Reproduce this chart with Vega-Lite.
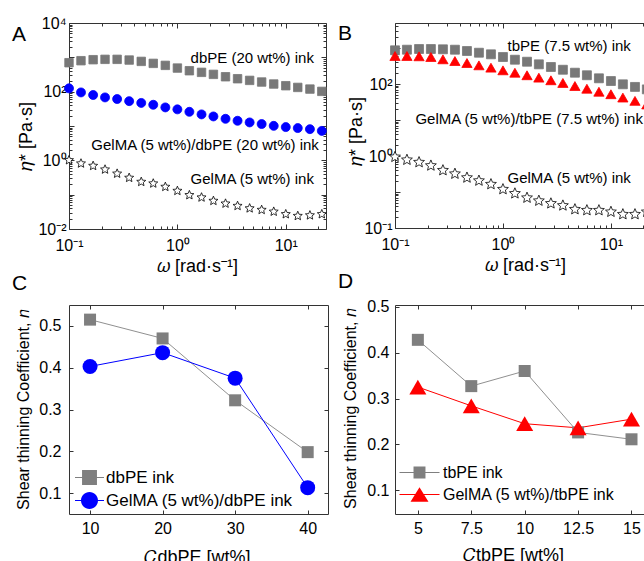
{
  "$schema": "https://vega.github.io/schema/vega-lite/v6.json",
  "padding": {"left": 11, "top": 14, "right": 0, "bottom": 0},
  "config": {
    "font": "Liberation Sans",
    "view": {"stroke": "#333", "strokeWidth": 1},
    "axis": {"labelFont": "Liberation Sans", "titleFont": "Liberation Sans", "labelColor": "#000", "titleColor": "#000", "tickColor": "#333", "domain": false, "grid": false, "titleFontWeight": "normal", "labelFlush": false, "labelOverlap": false, "labelBound": false},
    "title": {"font": "Liberation Sans", "fontSize": 21, "fontWeight": "normal", "anchor": "start", "frame": "group", "color": "#000"},
    "legend": {"labelFont": "Liberation Sans", "labelColor": "#000"}
  },
  "datasets": {
    "A": [
      {"w":0.1,"v":697,"s":"dbPE"},{"w":0.129,"v":798,"s":"dbPE"},{"w":0.167,"v":853,"s":"dbPE"},{"w":0.215,"v":874,"s":"dbPE"},{"w":0.278,"v":874,"s":"dbPE"},{"w":0.359,"v":834,"s":"dbPE"},{"w":0.464,"v":762,"s":"dbPE"},{"w":0.599,"v":667,"s":"dbPE"},{"w":0.774,"v":583,"s":"dbPE"},{"w":1,"v":487,"s":"dbPE"},{"w":1.29,"v":407,"s":"dbPE"},{"w":1.67,"v":365,"s":"dbPE"},{"w":2.15,"v":319,"s":"dbPE"},{"w":2.78,"v":272,"s":"dbPE"},{"w":3.59,"v":238,"s":"dbPE"},{"w":4.64,"v":213,"s":"dbPE"},{"w":5.99,"v":191,"s":"dbPE"},{"w":7.74,"v":167,"s":"dbPE"},{"w":10,"v":149,"s":"dbPE"},{"w":12.9,"v":133,"s":"dbPE"},{"w":16.7,"v":119,"s":"dbPE"},{"w":21.5,"v":102,"s":"dbPE"},
      {"w":0.1,"v":125,"s":"GelMA/dbPE"},{"w":0.129,"v":95,"s":"GelMA/dbPE"},{"w":0.167,"v":80,"s":"GelMA/dbPE"},{"w":0.215,"v":68,"s":"GelMA/dbPE"},{"w":0.278,"v":61,"s":"GelMA/dbPE"},{"w":0.359,"v":53,"s":"GelMA/dbPE"},{"w":0.464,"v":47,"s":"GelMA/dbPE"},{"w":0.599,"v":41.5,"s":"GelMA/dbPE"},{"w":0.774,"v":34.8,"s":"GelMA/dbPE"},{"w":1,"v":30.5,"s":"GelMA/dbPE"},{"w":1.29,"v":25.9,"s":"GelMA/dbPE"},{"w":1.67,"v":21.8,"s":"GelMA/dbPE"},{"w":2.15,"v":19.0,"s":"GelMA/dbPE"},{"w":2.78,"v":16.2,"s":"GelMA/dbPE"},{"w":3.59,"v":14.2,"s":"GelMA/dbPE"},{"w":4.64,"v":12.7,"s":"GelMA/dbPE"},{"w":5.99,"v":11.4,"s":"GelMA/dbPE"},{"w":7.74,"v":10.1,"s":"GelMA/dbPE"},{"w":10,"v":9.3,"s":"GelMA/dbPE"},{"w":12.9,"v":8.7,"s":"GelMA/dbPE"},{"w":16.7,"v":8.1,"s":"GelMA/dbPE"},{"w":21.5,"v":7.2,"s":"GelMA/dbPE"},
      {"w":0.1,"v":1.01,"s":"GelMA"},{"w":0.129,"v":0.81,"s":"GelMA"},{"w":0.167,"v":0.69,"s":"GelMA"},{"w":0.215,"v":0.54,"s":"GelMA"},{"w":0.278,"v":0.41,"s":"GelMA"},{"w":0.359,"v":0.31,"s":"GelMA"},{"w":0.464,"v":0.236,"s":"GelMA"},{"w":0.599,"v":0.212,"s":"GelMA"},{"w":0.774,"v":0.169,"s":"GelMA"},{"w":1,"v":0.129,"s":"GelMA"},{"w":1.29,"v":0.097,"s":"GelMA"},{"w":1.67,"v":0.083,"s":"GelMA"},{"w":2.15,"v":0.066,"s":"GelMA"},{"w":2.78,"v":0.055,"s":"GelMA"},{"w":3.59,"v":0.047,"s":"GelMA"},{"w":4.64,"v":0.040,"s":"GelMA"},{"w":5.99,"v":0.036,"s":"GelMA"},{"w":7.74,"v":0.032,"s":"GelMA"},{"w":10,"v":0.027,"s":"GelMA"},{"w":12.9,"v":0.024,"s":"GelMA"},{"w":16.7,"v":0.025,"s":"GelMA"},{"w":21.5,"v":0.027,"s":"GelMA"}
    ],
    "Atxt": [
      {"x":18.2,"y":955,"t":"dbPE (20 wt%) ink"},
      {"x":20.2,"y":2.79,"t":"GelMA (5 wt%)/dbPE (20 wt%) ink"},
      {"x":18.2,"y":0.286,"t":"GelMA (5 wt%) ink"}
    ],
    "B": [
      {"w":0.1,"v":863,"s":"tbPE"},{"w":0.129,"v":897,"s":"tbPE"},{"w":0.167,"v":938,"s":"tbPE"},{"w":0.215,"v":938,"s":"tbPE"},{"w":0.278,"v":920,"s":"tbPE"},{"w":0.359,"v":897,"s":"tbPE"},{"w":0.464,"v":826,"s":"tbPE"},{"w":0.599,"v":740,"s":"tbPE"},{"w":0.774,"v":668,"s":"tbPE"},{"w":1,"v":562,"s":"tbPE"},{"w":1.29,"v":473,"s":"tbPE"},{"w":1.67,"v":416,"s":"tbPE"},{"w":2.15,"v":352,"s":"tbPE"},{"w":2.78,"v":297,"s":"tbPE"},{"w":3.59,"v":249,"s":"tbPE"},{"w":4.64,"v":206,"s":"tbPE"},{"w":5.99,"v":175,"s":"tbPE"},{"w":7.74,"v":144,"s":"tbPE"},{"w":10,"v":121,"s":"tbPE"},{"w":12.9,"v":98,"s":"tbPE"},{"w":16.7,"v":83,"s":"tbPE"},{"w":21.5,"v":71,"s":"tbPE"},
      {"w":0.1,"v":600,"s":"GelMA/tbPE"},{"w":0.129,"v":600,"s":"GelMA/tbPE"},{"w":0.167,"v":588,"s":"GelMA/tbPE"},{"w":0.215,"v":562,"s":"GelMA/tbPE"},{"w":0.278,"v":485,"s":"GelMA/tbPE"},{"w":0.359,"v":435,"s":"GelMA/tbPE"},{"w":0.464,"v":383,"s":"GelMA/tbPE"},{"w":0.599,"v":330,"s":"GelMA/tbPE"},{"w":0.774,"v":284,"s":"GelMA/tbPE"},{"w":1,"v":240,"s":"GelMA/tbPE"},{"w":1.29,"v":206,"s":"GelMA/tbPE"},{"w":1.67,"v":175,"s":"GelMA/tbPE"},{"w":2.15,"v":150,"s":"GelMA/tbPE"},{"w":2.78,"v":127,"s":"GelMA/tbPE"},{"w":3.59,"v":107,"s":"GelMA/tbPE"},{"w":4.64,"v":88,"s":"GelMA/tbPE"},{"w":5.99,"v":74,"s":"GelMA/tbPE"},{"w":7.74,"v":61,"s":"GelMA/tbPE"},{"w":10,"v":52,"s":"GelMA/tbPE"},{"w":12.9,"v":42,"s":"GelMA/tbPE"},{"w":16.7,"v":34,"s":"GelMA/tbPE"},{"w":21.5,"v":27,"s":"GelMA/tbPE"},
      {"w":0.1,"v":0.94,"s":"GelMA"},{"w":0.129,"v":0.78,"s":"GelMA"},{"w":0.167,"v":0.67,"s":"GelMA"},{"w":0.215,"v":0.54,"s":"GelMA"},{"w":0.278,"v":0.40,"s":"GelMA"},{"w":0.359,"v":0.32,"s":"GelMA"},{"w":0.464,"v":0.25,"s":"GelMA"},{"w":0.599,"v":0.206,"s":"GelMA"},{"w":0.774,"v":0.164,"s":"GelMA"},{"w":1,"v":0.119,"s":"GelMA"},{"w":1.29,"v":0.091,"s":"GelMA"},{"w":1.67,"v":0.069,"s":"GelMA"},{"w":2.15,"v":0.057,"s":"GelMA"},{"w":2.78,"v":0.048,"s":"GelMA"},{"w":3.59,"v":0.042,"s":"GelMA"},{"w":4.64,"v":0.033,"s":"GelMA"},{"w":5.99,"v":0.031,"s":"GelMA"},{"w":7.74,"v":0.031,"s":"GelMA"},{"w":10,"v":0.028,"s":"GelMA"},{"w":12.9,"v":0.024,"s":"GelMA"},{"w":16.7,"v":0.024,"s":"GelMA"},{"w":21.5,"v":0.028,"s":"GelMA"}
    ],
    "Btxt": [
      {"x":15.3,"y":1137,"t":"tbPE (7.5 wt%) ink"},
      {"x":19.8,"y":10.7,"t":"GelMA (5 wt%)/tbPE (7.5 wt%) ink"},
      {"x":15.3,"y":0.245,"t":"GelMA (5 wt%) ink"}
    ],
    "C": [
      {"c":10,"n":0.515,"s":"dbPE ink"},{"c":20,"n":0.47,"s":"dbPE ink"},{"c":30,"n":0.322,"s":"dbPE ink"},{"c":40,"n":0.198,"s":"dbPE ink"},
      {"c":10,"n":0.403,"s":"GelMA (5 wt%)/dbPE ink"},{"c":20,"n":0.436,"s":"GelMA (5 wt%)/dbPE ink"},{"c":30,"n":0.375,"s":"GelMA (5 wt%)/dbPE ink"},{"c":40,"n":0.113,"s":"GelMA (5 wt%)/dbPE ink"}
    ],
    "D": [
      {"c":5,"n":0.428,"s":"tbPE ink"},{"c":7.5,"n":0.327,"s":"tbPE ink"},{"c":10,"n":0.36,"s":"tbPE ink"},{"c":12.5,"n":0.226,"s":"tbPE ink"},{"c":15,"n":0.211,"s":"tbPE ink"},
      {"c":5,"n":0.325,"s":"GelMA (5 wt%)/tbPE ink"},{"c":7.5,"n":0.284,"s":"GelMA (5 wt%)/tbPE ink"},{"c":10,"n":0.245,"s":"GelMA (5 wt%)/tbPE ink"},{"c":12.5,"n":0.236,"s":"GelMA (5 wt%)/tbPE ink"},{"c":15,"n":0.255,"s":"GelMA (5 wt%)/tbPE ink"}
    ]
  },
  "columns": 2,
  "spacing": {"row": 76, "column": 67},
  "bounds": "flush",
  "resolve": {"scale": {"x": "independent", "y": "independent", "fill": "independent", "stroke": "independent", "shape": "independent", "size": "independent", "color": "independent"}, "legend": {"fill": "independent", "color": "independent", "shape": "independent", "size": "independent", "stroke": "independent"}},
  "concat": [
        {
          "width": 257, "height": 206,
          "title": {"text": "A", "dx": -57, "dy": 34},
          "resolve": {"axis": {"x": "independent", "y": "independent"}},
          "layer": [
            {
              "data": {"name": "A"},
              "mark": {"type": "point", "filled": true, "opacity": 1, "strokeWidth": 0.8},
              "encoding": {
                "x": {"field": "w", "type": "quantitative", "scale": {"type": "log", "domain": [0.1, 23.5]},
                  "axis": {"orient": "bottom", "values": [0.1,0.2,0.3,0.4,0.5,0.6,0.7,0.8,0.9,1,2,3,4,5,6,7,8,9,10,20],
                    "labelExpr": "datum.value==0.1?'10⁻¹':datum.value==1?'10⁰':datum.value==10?'10¹':''",
                    "tickSize": {"condition": {"test": "datum.value==0.1||datum.value==1||datum.value==10", "value": -5}, "value": -3},
                    "labelPadding": 13, "labelFontSize": 16,
                    "title": "𝜔 [rad·s⁻¹]", "titleFontSize": 18, "titleX": 128, "titleY": 37, "titleBaseline": "middle"}},
                "y": {"field": "v", "type": "quantitative", "scale": {"type": "log", "domain": [0.01, 10000]},
                  "axis": {"orient": "left", "values": [0.01,0.02,0.03,0.04,0.05,0.06,0.07,0.08,0.09,0.1,0.2,0.3,0.4,0.5,0.6,0.7,0.8,0.9,1,2,3,4,5,6,7,8,9,10,20,30,40,50,60,70,80,90,100,200,300,400,500,600,700,800,900,1000,2000,3000,4000,5000,6000,7000,8000,9000,10000],
                    "labelExpr": "datum.value==0.01?'10⁻²':datum.value==1?'10⁰':datum.value==100?'10²':datum.value==10000?'10⁴':''",
                    "tickSize": {"condition": {"test": "datum.value==0.01||datum.value==0.1||datum.value==1||datum.value==10||datum.value==100||datum.value==1000||datum.value==10000", "value": -5}, "value": -3},
                    "labelPadding": 8, "labelFontSize": 16,
                    "title": "𝜂* [Pa·s]", "titleFontSize": 18, "titleX": -43, "titleY": 113, "titleBaseline": "middle"}},
                "shape": {"field": "s", "type": "nominal", "scale": {"domain": ["dbPE", "GelMA/dbPE", "GelMA"], "range": ["square", "circle", "M0,-1L0.265,-0.364L0.951,-0.309L0.428,0.139L0.588,0.809L0,0.45L-0.588,0.809L-0.428,0.139L-0.951,-0.309L-0.265,-0.364Z"]}, "legend": null},
                "fill": {"field": "s", "type": "nominal", "scale": {"domain": ["dbPE", "GelMA/dbPE", "GelMA"], "range": ["#787878", "#0000ff", "#ffffff"]}, "legend": null},
                "stroke": {"field": "s", "type": "nominal", "scale": {"domain": ["dbPE", "GelMA/dbPE", "GelMA"], "range": ["#787878", "#0000ff", "#000000"]}, "legend": null},
                "size": {"field": "s", "type": "ordinal", "scale": {"domain": ["dbPE", "GelMA/dbPE", "GelMA"], "range": [72, 90, 130]}, "legend": null}
              }
            },
            {
              "data": {"name": "Atxt"},
              "mark": {"type": "text", "align": "right", "baseline": "middle", "fontSize": 15, "color": "#000"},
              "encoding": {
                "x": {"field": "x", "type": "quantitative", "scale": {"type": "log", "domain": [0.1, 23.5]},
                  "axis": {"orient": "top", "values": [0.1,0.2,0.3,0.4,0.5,0.6,0.7,0.8,0.9,1,2,3,4,5,6,7,8,9,10,20], "labels": false, "title": null,
                    "tickSize": {"condition": {"test": "datum.value==0.1||datum.value==1||datum.value==10", "value": -5}, "value": -3}}},
                "y": {"field": "y", "type": "quantitative", "scale": {"type": "log", "domain": [0.01, 10000]},
                  "axis": {"orient": "right", "values": [0.01,0.02,0.03,0.04,0.05,0.06,0.07,0.08,0.09,0.1,0.2,0.3,0.4,0.5,0.6,0.7,0.8,0.9,1,2,3,4,5,6,7,8,9,10,20,30,40,50,60,70,80,90,100,200,300,400,500,600,700,800,900,1000,2000,3000,4000,5000,6000,7000,8000,9000,10000], "labels": false, "title": null,
                    "tickSize": {"condition": {"test": "datum.value==0.01||datum.value==0.1||datum.value==1||datum.value==10||datum.value==100||datum.value==1000||datum.value==10000", "value": -5}, "value": -3}}},
                "text": {"field": "t", "type": "nominal"}
              }
            }
          ]
        },
        {
          "width": 256, "height": 205,
          "title": {"text": "B", "dx": -57, "dy": 30},
          "resolve": {"axis": {"x": "independent", "y": "independent"}},
          "layer": [
            {
              "data": {"name": "B"},
              "mark": {"type": "point", "filled": true, "opacity": 1, "strokeWidth": 0.8},
              "encoding": {
                "x": {"field": "w", "type": "quantitative", "scale": {"type": "log", "domain": [0.1, 23.5]},
                  "axis": {"orient": "bottom", "values": [0.1,0.2,0.3,0.4,0.5,0.6,0.7,0.8,0.9,1,2,3,4,5,6,7,8,9,10,20],
                    "labelExpr": "datum.value==0.1?'10⁻¹':datum.value==1?'10⁰':datum.value==10?'10¹':''",
                    "tickSize": {"condition": {"test": "datum.value==0.1||datum.value==1||datum.value==10", "value": -5}, "value": -3},
                    "labelPadding": 13, "labelFontSize": 16,
                    "title": "𝜔 [rad·s⁻¹]", "titleFontSize": 18, "titleX": 130, "titleY": 37, "titleBaseline": "middle"}},
                "y": {"field": "v", "type": "quantitative", "scale": {"type": "log", "domain": [0.01, 4950]},
                  "axis": {"orient": "left", "values": [0.01,0.02,0.03,0.04,0.05,0.06,0.07,0.08,0.09,0.1,0.2,0.3,0.4,0.5,0.6,0.7,0.8,0.9,1,2,3,4,5,6,7,8,9,10,20,30,40,50,60,70,80,90,100,200,300,400,500,600,700,800,900,1000,2000,3000,4000],
                    "labelExpr": "datum.value==0.01?'10⁻¹':datum.value==1?'10⁰':datum.value==100?'10²':''",
                    "tickSize": {"condition": {"test": "datum.value==0.01||datum.value==0.1||datum.value==1||datum.value==10||datum.value==100||datum.value==1000", "value": -5}, "value": -3},
                    "labelPadding": 8, "labelFontSize": 16,
                    "title": "𝜂* [Pa·s]", "titleFontSize": 18, "titleX": -39, "titleY": 108, "titleBaseline": "middle"}},
                "shape": {"field": "s", "type": "nominal", "scale": {"domain": ["tbPE", "GelMA/tbPE", "GelMA"], "range": ["square", "triangle-up", "M0,-1L0.265,-0.364L0.951,-0.309L0.428,0.139L0.588,0.809L0,0.45L-0.588,0.809L-0.428,0.139L-0.951,-0.309L-0.265,-0.364Z"]}, "legend": null},
                "fill": {"field": "s", "type": "nominal", "scale": {"domain": ["tbPE", "GelMA/tbPE", "GelMA"], "range": ["#787878", "#ff0000", "#ffffff"]}, "legend": null},
                "stroke": {"field": "s", "type": "nominal", "scale": {"domain": ["tbPE", "GelMA/tbPE", "GelMA"], "range": ["#787878", "#ff0000", "#000000"]}, "legend": null},
                "size": {"field": "s", "type": "ordinal", "scale": {"domain": ["tbPE", "GelMA/tbPE", "GelMA"], "range": [80, 130, 130]}, "legend": null}
              }
            },
            {
              "data": {"name": "Btxt"},
              "mark": {"type": "text", "align": "right", "baseline": "middle", "fontSize": 15, "color": "#000"},
              "encoding": {
                "x": {"field": "x", "type": "quantitative", "scale": {"type": "log", "domain": [0.1, 23.5]},
                  "axis": {"orient": "top", "values": [0.1,0.2,0.3,0.4,0.5,0.6,0.7,0.8,0.9,1,2,3,4,5,6,7,8,9,10,20], "labels": false, "title": null,
                    "tickSize": {"condition": {"test": "datum.value==0.1||datum.value==1||datum.value==10", "value": -5}, "value": -3}}},
                "y": {"field": "y", "type": "quantitative", "scale": {"type": "log", "domain": [0.01, 4950]},
                  "axis": {"orient": "right", "values": [0.01,0.1,1,10,100,1000], "labels": false, "title": null, "tickSize": -5}},
                "text": {"field": "t", "type": "nominal"}
              }
            }
          ]
        },
        {
          "width": 259, "height": 209,
          "title": {"text": "C", "dx": -57, "dy": -7},
          "resolve": {"axis": {"x": "independent", "y": "independent"}},
          "layer": [
            {
              "data": {"name": "C"},
              "transform": [{"filter": "datum.s === 'dbPE ink'"}],
              "mark": {"type": "line", "strokeWidth": 1, "color": "#909090"},
              "encoding": {
                "x": {"field": "c", "type": "quantitative", "scale": {"domain": [7.1, 42.8]},
                  "axis": {"orient": "bottom", "values": [10, 20, 30, 40], "tickSize": -4, "labelPadding": 10, "labelFontSize": 16,
                    "title": "𝐶dbPE [wt%]", "titleFontSize": 18, "titleX": 128, "titleY": 43, "titleBaseline": "middle"}},
                "y": {"field": "n", "type": "quantitative", "scale": {"domain": [0.05, 0.55]},
                  "axis": {"orient": "left", "values": [0.1, 0.2, 0.3, 0.4, 0.5], "format": ".1f", "tickSize": -4, "labelPadding": 12, "labelFontSize": 16,
                    "title": "Shear thinning Coefficient, 𝑛", "titleFontSize": 16, "titleX": -46, "titleY": 104, "titleBaseline": "middle"}}
              }
            },
            {
              "data": {"name": "C"},
              "transform": [{"filter": "datum.s !== 'dbPE ink'"}],
              "mark": {"type": "line", "strokeWidth": 1, "color": "#0000ff"},
              "encoding": {
                "x": {"field": "c", "type": "quantitative", "scale": {"domain": [7.1, 42.8]}, "axis": null},
                "y": {"field": "n", "type": "quantitative", "scale": {"domain": [0.05, 0.55]}, "axis": null}
              }
            },
            {
              "data": {"name": "C"},
              "transform": [{"filter": "datum.s === 'dbPE ink'"}],
              "mark": {"type": "point", "filled": true, "opacity": 1, "shape": "square", "size": 144, "color": "#7f7f7f"},
              "encoding": {
                "x": {"field": "c", "type": "quantitative", "scale": {"domain": [7.1, 42.8]},
                  "axis": {"orient": "top", "values": [10, 20, 30, 40], "labels": false, "title": null, "tickSize": -4}},
                "y": {"field": "n", "type": "quantitative", "scale": {"domain": [0.05, 0.55]},
                  "axis": {"orient": "right", "values": [0.1, 0.2, 0.3, 0.4, 0.5], "labels": false, "title": null, "tickSize": -4}}
              }
            },
            {
              "data": {"name": "C"},
              "transform": [{"filter": "datum.s !== 'dbPE ink'"}],
              "mark": {"type": "point", "filled": true, "opacity": 1, "shape": "circle", "size": 225, "color": "#0000ff"},
              "encoding": {
                "x": {"field": "c", "type": "quantitative", "scale": {"domain": [7.1, 42.8]}, "axis": null},
                "y": {"field": "n", "type": "quantitative", "scale": {"domain": [0.05, 0.55]}, "axis": null}
              }
            },
            {
              "data": {"name": "C"},
              "transform": [{"filter": "false"}],
              "mark": {"type": "point", "filled": true, "opacity": 1},
              "encoding": {
                "fill": {"field": "s", "type": "nominal", "scale": {"domain": ["dbPE ink", "GelMA (5 wt%)/dbPE ink"], "range": ["#7f7f7f", "#0000ff"]},
                  "legend": {"orient": "none", "legendX": 9, "legendY": 161, "title": null, "padding": 0, "labelFontSize": 17, "symbolSize": 441, "labelOffset": 5, "rowPadding": 0, "labelLimit": 400}},
                "shape": {"field": "s", "type": "nominal", "scale": {"domain": ["dbPE ink", "GelMA (5 wt%)/dbPE ink"], "range": ["M-1.38,-0.048H1.38V0.048H-1.38ZM-0.71,-0.71H0.71V0.71H-0.71Z", "M-1.38,-0.048H1.38V0.048H-1.38ZM-0.81,0A0.81,0.81 0 1,1 0.81,0A0.81,0.81 0 1,1 -0.81,0Z"]}}
              }
            }
          ]
        },
        {
          "width": 260, "height": 209,
          "title": {"text": "D", "dx": -57, "dy": -3},
          "resolve": {"axis": {"x": "independent", "y": "independent"}},
          "layer": [
            {
              "data": {"name": "D"},
              "transform": [{"filter": "datum.s === 'tbPE ink'"}],
              "mark": {"type": "line", "strokeWidth": 1, "color": "#909090"},
              "encoding": {
                "x": {"field": "c", "type": "quantitative", "scale": {"domain": [3.93, 16.1]},
                  "axis": {"orient": "bottom", "values": [5, 7.5, 10, 12.5, 15], "format": ".1~f", "tickSize": -4, "labelPadding": 10, "labelFontSize": 16,
                    "title": "𝐶tbPE [wt%]", "titleFontSize": 18, "titleX": 118, "titleY": 41, "titleBaseline": "middle"}},
                "y": {"field": "n", "type": "quantitative", "scale": {"domain": [0.048, 0.504]},
                  "axis": {"orient": "left", "values": [0.1, 0.2, 0.3, 0.4, 0.5], "format": ".1f", "tickSize": -4, "labelPadding": 10, "labelFontSize": 16,
                    "title": "Shear thinning Coefficient, 𝑛", "titleFontSize": 16, "titleX": -45, "titleY": 103, "titleBaseline": "middle"}}
              }
            },
            {
              "data": {"name": "D"},
              "transform": [{"filter": "datum.s !== 'tbPE ink'"}],
              "mark": {"type": "line", "strokeWidth": 1, "color": "#ff0000"},
              "encoding": {
                "x": {"field": "c", "type": "quantitative", "scale": {"domain": [3.93, 16.1]}, "axis": null},
                "y": {"field": "n", "type": "quantitative", "scale": {"domain": [0.048, 0.504]}, "axis": null}
              }
            },
            {
              "data": {"name": "D"},
              "transform": [{"filter": "datum.s === 'tbPE ink'"}],
              "mark": {"type": "point", "filled": true, "opacity": 1, "shape": "square", "size": 144, "color": "#7f7f7f"},
              "encoding": {
                "x": {"field": "c", "type": "quantitative", "scale": {"domain": [3.93, 16.1]},
                  "axis": {"orient": "top", "values": [5, 7.5, 10, 12.5, 15], "labels": false, "title": null, "tickSize": -4}},
                "y": {"field": "n", "type": "quantitative", "scale": {"domain": [0.048, 0.504]},
                  "axis": {"orient": "right", "values": [0.1, 0.2, 0.3, 0.4, 0.5], "labels": false, "title": null, "tickSize": -4}}
              }
            },
            {
              "data": {"name": "D"},
              "transform": [{"filter": "datum.s !== 'tbPE ink'"}],
              "mark": {"type": "point", "filled": true, "opacity": 1, "shape": "triangle-up", "size": 290, "color": "#ff0000"},
              "encoding": {
                "x": {"field": "c", "type": "quantitative", "scale": {"domain": [3.93, 16.1]}, "axis": null},
                "y": {"field": "n", "type": "quantitative", "scale": {"domain": [0.048, 0.504]}, "axis": null}
              }
            },
            {
              "data": {"name": "D"},
              "transform": [{"filter": "false"}],
              "mark": {"type": "point", "filled": true, "opacity": 1},
              "encoding": {
                "fill": {"field": "s", "type": "nominal", "scale": {"domain": ["tbPE ink", "GelMA (5 wt%)/tbPE ink"], "range": ["#7f7f7f", "#ff0000"]},
                  "legend": {"orient": "none", "legendX": 12, "legendY": 155, "title": null, "padding": 0, "labelFontSize": 16, "symbolSize": 529, "labelOffset": 11, "rowPadding": 0, "labelLimit": 400}},
                "shape": {"field": "s", "type": "nominal", "scale": {"domain": ["tbPE ink", "GelMA (5 wt%)/tbPE ink"], "range": ["M-1.74,-0.045H1.74V0.045H-1.74ZM-0.52,-0.52H0.52V0.52H-0.52Z", "M-1.74,-0.045H1.74V0.045H-1.74ZM0,-0.62L0.78,0.62L-0.78,0.62Z"]}}
              }
            }
          ]
        }
  ]
}
